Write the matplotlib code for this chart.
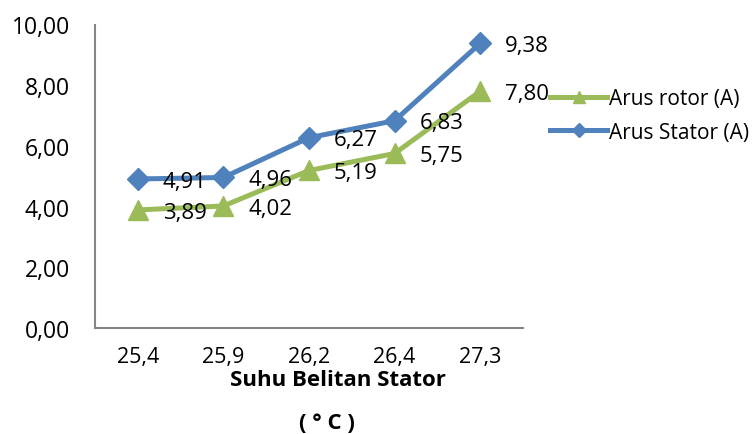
import matplotlib
matplotlib.use("Agg")
import matplotlib.pyplot as plt

# Data
temperatures = ["25,4", "25,9", "26,2", "26,4", "27,3"]
arus_stator = [4.91, 4.96, 6.27, 6.83, 9.38]
arus_rotor = [3.89, 4.02, 5.19, 5.75, 7.80]
y_ticks = [0, 2, 4, 6, 8, 10]

BLUE = "#4F81BD"
GREEN = "#9BBB59"
AXIS_GREY = "#868686"
FONT = "Open Sans"

plt.rcParams["font.family"] = [FONT, "DejaVu Sans"]

fig = plt.figure(figsize=(7.53, 4.35), dpi=100)
ax = fig.add_axes([95 / 753, 1 - 329 / 435, 428 / 753, (329 - 25.5) / 435])

x = list(range(len(temperatures)))

line_stator, = ax.plot(x, arus_stator, color=BLUE, lw=3.6, marker="D",
                       markersize=11.5, markerfacecolor=BLUE, markeredgecolor=BLUE,
                       label="Arus Stator (A)", zorder=3)
line_rotor, = ax.plot(x, arus_rotor, color=GREEN, lw=3.6, marker="^",
                      markersize=14, markerfacecolor=GREEN, markeredgecolor=GREEN,
                      label="Arus rotor (A)", zorder=3)

def fmt(v):
    return f"{v:.2f}".replace(".", ",")

for xi, v in zip(x, arus_stator):
    ax.annotate(fmt(v), (xi, v), xytext=(18, -1.5), textcoords="offset points",
                ha="left", va="center", fontsize=16, color="black", zorder=4)
for xi, v in zip(x, arus_rotor):
    ax.annotate(fmt(v), (xi, v), xytext=(18, -1.5), textcoords="offset points",
                ha="left", va="center", fontsize=16, color="black", zorder=4)

ax.set_xlim(-0.5, len(x) - 0.5)
ax.set_ylim(0, 10)
ax.set_xticks(x)
ax.set_xticklabels(temperatures, fontsize=15.5)
ax.set_yticks(y_ticks)
ax.set_yticklabels([fmt(v) for v in y_ticks], fontsize=16.5)
ax.tick_params(axis="both", length=0)
ax.tick_params(axis="y", pad=18)
ax.tick_params(axis="x", pad=13)

for side in ("top", "right"):
    ax.spines[side].set_visible(False)
for side in ("left", "bottom"):
    ax.spines[side].set_color(AXIS_GREY)
    ax.spines[side].set_linewidth(1.5)

ax.legend(handles=[line_rotor, line_stator], loc="center left",
          bbox_to_anchor=(550 / 753, 1 - 116.5 / 435), bbox_transform=fig.transFigure,
          frameon=False, fontsize=15, handlelength=2.75, handletextpad=0.1,
          markerscale=0.6, labelspacing=0.6, borderaxespad=0, borderpad=0)

fig.text(338 / 753, 1 - 380 / 435, "Suhu Belitan Stator", ha="center", va="center",
         fontsize=16, fontweight="bold")
fig.text(327 / 753, 1 - 424 / 435, "( ° C )", ha="center", va="center",
         fontsize=16, fontweight="bold")

fig.savefig("out.png", dpi=100)
